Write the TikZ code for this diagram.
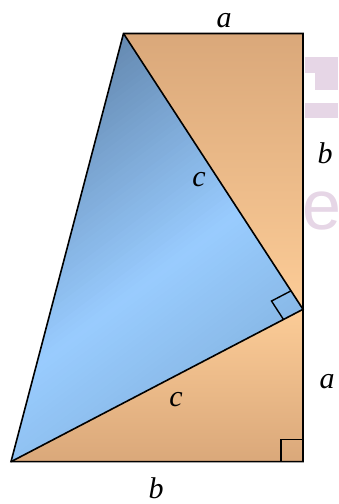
\documentclass[tikz,border=0pt]{standalone}
\usepackage{fontspec}
\setmainfont{Liberation Serif}
\newfontfamily\wmfont{Liberation Sans}
\usetikzlibrary{calc}
\definecolor{tanD}{HTML}{DAA87A}
\definecolor{tanL}{HTML}{FCCC97}
\definecolor{bluD}{HTML}{6387AE}
\definecolor{bluL}{HTML}{99CCFF}
\definecolor{bluM}{HTML}{88B8E6}
\definecolor{wm}{HTML}{E6D6E6}
\begin{document}
\begin{tikzpicture}[x=1pt,y=1pt,
  edge/.style={line width=1.6pt, line join=miter},
  rmark/.style={line width=1.4pt, line join=miter},
  lbl/.style={font=\fontsize{30}{30}\selectfont\itshape, inner sep=0pt}]
\useasboundingbox (0,0) rectangle (338,504);
% faint watermark
\fill[wm] (305,447) rectangle (338,431);
\fill[wm] (315,431) rectangle (338,414);
\fill[wm] (305,401) rectangle (338,386);
\node[anchor=west, inner sep=0pt, text=wm, font=\wmfont\fontsize{70}{70}\selectfont] (wme) at (302,293) {e};
% vertices
\coordinate (T) at (123.5,470.5);
\coordinate (TR) at (303,470.5);
\coordinate (M) at (303,194.7);
\coordinate (BR) at (303,42.3);
\coordinate (BL) at (11,42.3);
% fills
\shade[top color=tanD, bottom color=tanL] (T) -- (TR) -- (M) -- cycle;
\shade[top color=tanL, bottom color=tanD] (M) -- (BR) -- (BL) -- cycle;
\begin{scope}
  \clip (T) -- (M) -- (BL) -- cycle;
  \foreach \k in {0,...,69} {
    \pgfmathsetmacro{\sa}{-310+5*\k}
    \pgfmathsetmacro{\sb}{\sa+5.8}
    \pgfmathsetmacro{\sm}{\sa+2.5}
    \ifdim\sm pt<-90pt
      \pgfmathtruncatemacro{\pc}{min(100,max(0,(\sm+310)/2.2))}
      \colorlet{stripc}{bluL!\pc!bluD}
    \else
      \pgfmathtruncatemacro{\pc}{min(100,max(0,(\sm+90)/1.2))}
      \colorlet{stripc}{bluM!\pc!bluL}
    \fi
    \fill[stripc] ({0.6*\sa-400},{-0.8*\sa-300}) -- ({0.6*\sa+400},{-0.8*\sa+300})
      -- ({0.6*\sb+400},{-0.8*\sb+300}) -- ({0.6*\sb-400},{-0.8*\sb-300}) -- cycle;
  }
\end{scope}
% outlines
\draw[edge] (T) -- (TR) -- (BR) -- (BL) -- cycle;
\draw[edge] (T) -- (M) -- (BL);
% right angle marks
\coordinate (M1) at ($(M)!22pt!(T)$);
\coordinate (M2) at ($(M)!22pt!(BL)$);
\coordinate (MC) at ($(M1)+(M2)-(M)$);
\draw[rmark] (M1) -- (MC) -- (M2);
\coordinate (B1) at ($(BR)+(-22,0)$);
\coordinate (BC) at ($(BR)+(-22,22)$);
\coordinate (B2) at ($(BR)+(0,22)$);
\draw[rmark] (B1) -- (BC) -- (B2);
% labels
\node[lbl] (la1) at (224,483) {a};
\node[lbl] (lb1) at (325,351) {b};
\node[lbl] (lc1) at (199,324) {c};
\node[lbl] (la2) at (327,122) {a};
\node[lbl] (lc2) at (176,104) {c};
\node[lbl] (lb2) at (156,16) {b};
\end{tikzpicture}
\end{document}
